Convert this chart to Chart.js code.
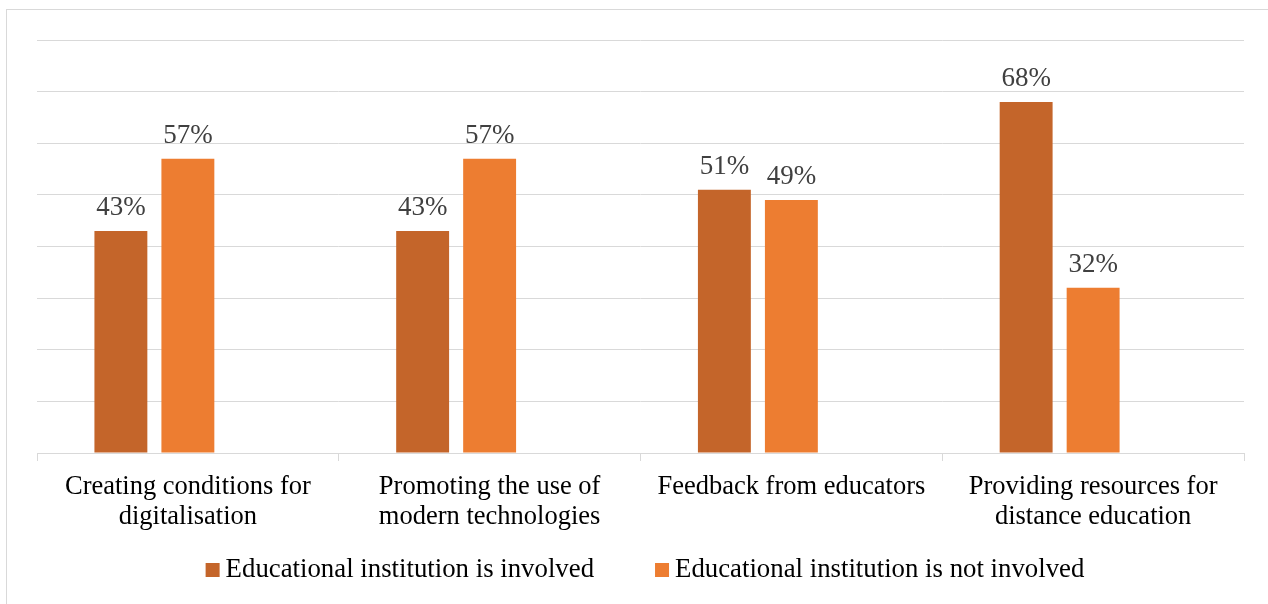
<!DOCTYPE html>
<html>
<head>
<meta charset="utf-8">
<script src="https://cdn.jsdelivr.net/npm/chart.js@4/dist/chart.umd.min.js"></script>
<style>
  html, body { margin: 0; padding: 0; background: #fff; }
  #frame { position: absolute; left: 6px; top: 9px; width: 1300px; height: 700px; border: 1px solid #d9d9d9; box-sizing: border-box; }
  #wrap { position: absolute; left: 0; top: 0; width: 1268px; height: 604px; }
</style>
</head>
<body>
<div id="frame"></div>
<div id="wrap"><canvas id="chart_cv"></canvas></div>
<script>
'use strict'
// data
let categories = [
    ["Creating conditions for", "digitalisation"],
    ["Promoting the use of", "modern technologies"],
    ["Feedback from educators"],
    ["Providing resources for", "distance education"],
];
let seriesNames = ["Educational institution is involved", "Educational institution is not involved"];
let involved = [43, 43, 51, 68];
let notInvolved = [57, 57, 49, 32];
let emptySeries = [null, null, null, null]; // third (blank) series keeps bars left of centre

let fontFamily = "'Liberation Serif', 'Times New Roman', serif";

let dataLabelPlugin = {
    id: "dataLabels",
    afterDatasetsDraw: function (chart) {
        let ctx = chart.ctx;
        ctx.save();
        ctx.fillStyle = "#404040";
        ctx.font = "27px " + fontFamily;
        ctx.textAlign = "center";
        ctx.textBaseline = "alphabetic";
        chart.data.datasets.forEach(function (dataset, i) {
            let meta = chart.getDatasetMeta(i);
            if (meta.hidden) return;
            meta.data.forEach(function (element, index) {
                let v = dataset.data[index];
                if (v === null) return;
                ctx.fillText(v + "%", element.x, element.y - 16);
            });
        });
        ctx.restore();
    },
};

// legend drawn by hand so the spacing matches the original
let legendPlugin = {
    id: "customLegend",
    afterDraw: function (chart) {
        let ctx = chart.ctx;
        let box = 14, gapText = 6, gapItem = 61;
        let centerX = 645, baseY = 577;
        ctx.save();
        ctx.font = "26.8px " + fontFamily;
        ctx.textBaseline = "alphabetic";
        ctx.textAlign = "left";
        let items = chart.data.datasets.filter(function (d) { return d.label !== ""; });
        let widths = items.map(function (d) { return ctx.measureText(d.label).width; });
        let total = 0;
        widths.forEach(function (w, i) { total += box + gapText + w + (i > 0 ? gapItem : 0); });
        let x = centerX - total / 2;
        items.forEach(function (d, i) {
            ctx.fillStyle = d.backgroundColor;
            ctx.fillRect(x, baseY - 14, box, box);
            ctx.fillStyle = "#000";
            ctx.fillText(d.label, x + box + gapText, baseY);
            x += box + gapText + widths[i] + gapItem;
        });
        ctx.restore();
    },
};

let chart = new Chart("chart_cv", {
    type: "bar",
    data: {
        labels: categories,
        datasets: [
            { label: seriesNames[0], data: involved, backgroundColor: "#C4652A" },
            { label: seriesNames[1], data: notInvolved, backgroundColor: "#ED7D31" },
            { label: "", data: emptySeries, backgroundColor: "#A5A5A5" },
        ],
    },
    options: {
        responsive: true,
        maintainAspectRatio: false,
        animation: false,
        datasets: {
            bar: { categoryPercentage: 0.666, barPercentage: 0.79 },
        },
        layout: { padding: { left: 37, right: 24, top: 40, bottom: 41 } },
        plugins: {
            tooltip: { enabled: false },
            legend: { display: false },
        },
        scales: {
            x: {
                grid: {
                    offset: true,
                    drawOnChartArea: false,
                    drawTicks: true,
                    tickLength: 8,
                    color: "#d9d9d9",
                },
                border: { color: "#d9d9d9" },
                ticks: {
                    color: "#000",
                    padding: 11,
                    maxRotation: 0,
                    autoSkip: false,
                    font: { family: fontFamily, size: 26.5, lineHeight: 1.132 },
                },
                afterFit: function (scale) { scale.height = 110; },
            },
            y: {
                min: 0,
                max: 80,
                ticks: { display: false, stepSize: 10 },
                grid: { color: "#d9d9d9", drawTicks: false },
                border: { display: false },
                afterFit: function (scale) { scale.width = 0; },
            },
        },
    },
    plugins: [dataLabelPlugin, legendPlugin],
});
</script>
</body>
</html>
